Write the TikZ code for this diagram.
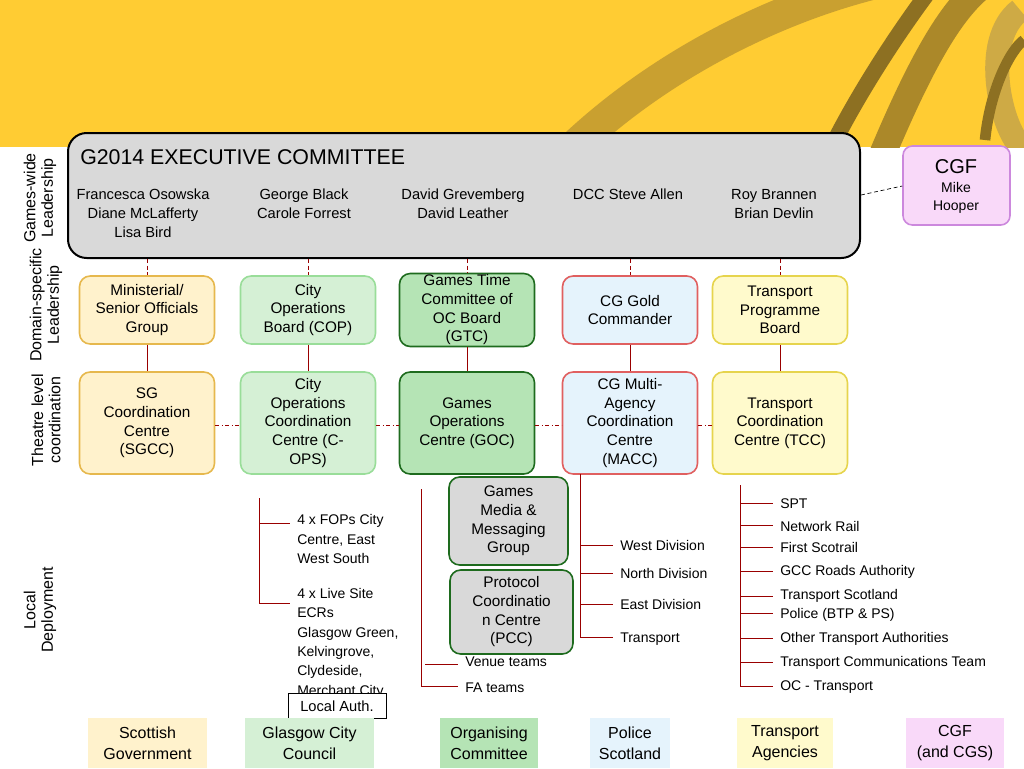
\documentclass[tikz,border=0pt]{standalone}
\usepackage{fontspec}
\setmainfont{Liberation Sans}
\begin{document}
\begin{tikzpicture}[x=0.75pt,y=-0.75pt,
 bx/.style={draw,rounded corners=8pt,line width=1.2pt,align=center,inner sep=1pt,font=\fontsize{11.5}{14}\selectfont},
 lst/.style={anchor=west,align=left,inner sep=0pt,font=\fontsize{10.5}{14.5}\selectfont},
 leg/.style={inner sep=0pt,align=center,font=\fontsize{12}{15.5}\selectfont},
 rl/.style={draw=red!60!black,line width=0.6pt},
 side/.style={rotate=90,align=center,font=\fontsize{12}{13}\selectfont}]
\definecolor{ybg}{HTML}{FFCC33}\definecolor{ring}{HTML}{C9A030}
\definecolor{sgF}{HTML}{FFF2CC}\definecolor{sgD}{HTML}{E6B84D}
\definecolor{gcF}{HTML}{D5F0D5}\definecolor{gcD}{HTML}{99DD99}
\definecolor{ocF}{HTML}{B5E4B5}\definecolor{ocD}{HTML}{1E6B1E}
\definecolor{psF}{HTML}{E5F3FC}\definecolor{psD}{HTML}{E06060}
\definecolor{taF}{HTML}{FFFACC}\definecolor{taD}{HTML}{E6D44D}
\definecolor{cgF}{HTML}{F9D9F9}\definecolor{cgD}{HTML}{CC88DD}
\useasboundingbox (0,0) rectangle (1024,768);
\fill[ybg] (0,0) rectangle (1024,147);
\begin{scope}
\clip (0,0) rectangle (1024,147);
\draw[ring,line width=24pt] (560,160) .. controls (700,20) and (900,-40) .. (1000,-30);
\draw[ring!85!black,line width=20pt] (880,160) .. controls (930,40) and (960,0) .. (990,-20);
\draw[ring!70!black,line width=12pt] (830,150) .. controls (860,90) and (900,30) .. (930,-10);
\draw[ring!90,line width=18pt] (1020,10) .. controls (980,40) and (1000,130) .. (1024,150);
\draw[ring!70!black,line width=8pt] (985,140) .. controls (990,90) and (1010,50) .. (1024,40);
\end{scope}
% exec
\node[draw,fill=black!15,rounded corners=14pt,line width=1.5pt,minimum width=792*0.75pt,minimum height=125*0.75pt,inner sep=0pt] (ex) at (464,195.5) {};
\node[anchor=west,font=\fontsize{16}{17}\selectfont,inner sep=0pt] (ext) at (80,157) {G2014 EXECUTIVE COMMITTEE};
\begin{scope}[every node/.style={align=center,inner sep=0pt,font=\fontsize{11}{14}\selectfont,anchor=north}]
\node (n1) at (143,189) {Francesca Osowska\\Diane McLafferty\\Lisa Bird};
\node (n2) at (304,189) {George Black\\Carole Forrest};
\node (n3) at (463,189) {David Grevemberg\\David Leather};
\node (n4) at (628,189) {DCC Steve Allen};
\node (n5) at (774,189) {Roy Brannen\\Brian Devlin};
\end{scope}
\node[bx,fill=cgF,draw=cgD,minimum width=107*0.75pt,minimum height=79*0.75pt,rounded corners=7pt] (cgf) at (956.5,185.5) {};
\node[font=\fontsize{15}{16}\selectfont,inner sep=0pt] (cgft) at (956,167) {CGF};
\node[align=center,font=\fontsize{10.5}{14}\selectfont,inner sep=0pt] (cgfn) at (956,198) {Mike\\Hooper};
\draw[densely dashed,line width=0.5pt] (ex.east |- 0,195) coordinate (exr) -- (cgf.west |- 0,186);
% rows
\foreach \i/\x/\f/\d/\ta/\tb in {
 1/147/sgF/sgD/{Ministerial/\\Senior Officials\\Group}/{SG\\Coordination\\Centre\\(SGCC)},
 2/308/gcF/gcD/{City\\Operations\\Board (COP)}/{City\\Operations\\Coordination\\Centre (C-\\OPS)},
 3/467/ocF/ocD/{Games Time\\Committee of\\OC Board\\(GTC)}/{Games\\Operations\\Centre (GOC)},
 4/630/psF/psD/{CG Gold\\Commander}/{CG Multi-\\Agency\\Coordination\\Centre\\(MACC)},
 5/780/taF/taD/{Transport\\Programme\\Board}/{Transport\\Coordination\\Centre (TCC)}}{
 \node[bx,fill=\f,draw=\d,minimum width=135*0.75pt,minimum height=68*0.75pt] (a\i) at (\x,310) {\ta};
 \node[bx,fill=\f,draw=\d,minimum width=135*0.75pt,minimum height=102*0.75pt] (b\i) at (\x,423) {\tb};
 \draw[red!60!black,densely dashed,line width=0.5pt] (ex.south -| a\i) -- (a\i.north);
 \draw[rl] (a\i) -- (b\i);
}
\foreach \i/\j in {1/2,2/3,3/4,4/5}
 \draw[red!60!black,dash dot,line width=0.6pt] (b\i.east |- 0,425) -- (b\j.west |- 0,425);
% gray boxes
\node[bx,fill=black!15,draw=ocD,minimum width=119*0.75pt,minimum height=88*0.75pt] (gm) at (508.5,521) {Games\\Media \&\\Messaging\\Group};
\node[bx,fill=black!15,draw=ocD,minimum width=123*0.75pt,minimum height=84*0.75pt] (pc) at (511.5,612) {Protocol\\Coordinatio\\n Centre\\(PCC)};
% C-OPS list
\coordinate (c0) at (259,498); \coordinate (c1) at (259,523); \coordinate (c2) at (259,603);
\draw[rl] (c0) -- (c2) -- ++(31,0); \draw[rl] (c1) -- ++(31,0);
\node[lst] (l1) at (297,539) {4 x FOPs City\\Centre, East\\West South};
\node[lst,anchor=north west] (l2) at (297,588) {4 x Live Site\\ECRs\\Glasgow Green,\\Kelvingrove,\\Clydeside,\\Merchant City};
% GOC list
\coordinate (g0) at (421,489); \coordinate (g1) at (421,664); \coordinate (g2) at (421,686);
\draw[rl] (g0) -- (g2) -- ++(37,0); \draw[rl] (g1) ++(4,0) -- ++(33,0);
\node[lst] (v1) at (465,662) {Venue teams};
\node[lst] (v2) at (465,688) {FA teams};
% MACC list
\coordinate (m0) at (580,474); \coordinate (m4) at (580,637);
\draw[rl] (m0) -- (m4) -- ++(33,0);
\foreach \y/\t in {545/West Division,573/North Division,604/East Division}{\draw[rl] (580,\y) -- ++(33,0); \node[lst] at (620,\y) {\t};}
\node[lst] at (620,639) {Transport};
% TCC list
\coordinate (t0) at (740,485); \coordinate (t9) at (740,686);
\draw[rl] (t0) -- (t9);
\foreach \y/\yt/\t in {503/504/SPT,525/526/Network Rail,547/547/First Scotrail,571/572/GCC Roads Authority,596/596/Transport Scotland,613/615/Police (BTP \& PS),638/639/Other Transport Authorities,662/663/Transport Communications Team,686/687/OC - Transport}{
 \draw[rl] (740,\y) -- ++(33,0); \node[lst] at (780,\yt) {\t};}
% local auth
\node[draw,fill=white,line width=0.6pt,font=\fontsize{11}{12}\selectfont,minimum width=98*0.75pt,minimum height=25*0.75pt,inner sep=0pt] (la) at (337,706) {Local Auth.};
% legend
\foreach \x/\w/\f/\t in {147.5/119/sgF/{Scottish\\Government},309.5/129/gcF/{Glasgow City\\Council},489/98/ocF/{Organising\\Committee},630/80/psF/{Police\\Scotland},785/96/taF/{Transport\\Agencies},955/98/cgF/{CGF\\(and CGS)}}
 \node[leg,fill=\f,minimum width=\w*0.75pt,minimum height=50*0.75pt] at (\x,743) {\t};
% side labels
\node[side] at (40,198) {Games-wide\\Leadership};
\node[side] at (46,305) {Domain-specific\\Leadership};
\node[side] at (46,420) {Theatre level\\coordination};
\node[side] at (40,610) {Local\\Deployment};
\end{tikzpicture}
\end{document}
